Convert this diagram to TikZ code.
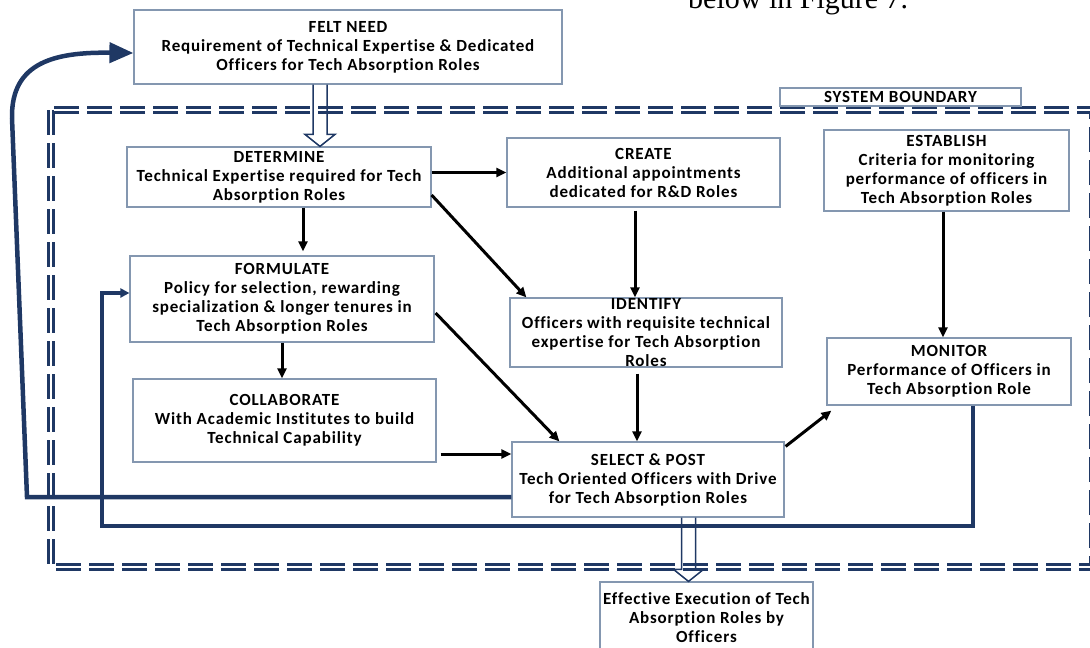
\documentclass[tikz,border=0pt]{standalone}
\usepackage{fontspec}
\setmainfont{Carlito}[Ligatures=NoCommon, LetterSpace=5]
\newfontfamily\captionserif{Liberation Serif}
\usetikzlibrary{arrows.meta,calc}
\definecolor{navy}{HTML}{1F3864}
\definecolor{boxline}{HTML}{8497B0}
\newcommand\boxfont{\fontsize{17}{19}\selectfont\bfseries}
% hollow double arrow: #1 x position, #2 from anchor, #3 to anchor
\newcommand\dblarrow[3]{%
  \draw[hollow] ([xshift=-7pt]#1 |- #2) -- ([xshift=-7pt,yshift=12pt]#1 |- #3)
    -- ([xshift=-15pt,yshift=12pt]#1 |- #3) -- (#1 |- #3)
    -- ([xshift=15pt,yshift=12pt]#1 |- #3) -- ([xshift=7pt,yshift=12pt]#1 |- #3)
    -- ([xshift=7pt]#1 |- #2);}
\tikzset{
  box/.style={draw=boxline, line width=1.2pt, fill=white, align=center, inner sep=0pt, font=\boxfont},
  flow/.style={-{Triangle[length=10pt,width=9pt]}, line width=3pt},
  feedback/.style={navy, line width=4.5pt, -{Triangle[length=24pt,width=20pt]}},
  feedbackthin/.style={navy, line width=3.2pt, -{Triangle[length=9pt,width=9pt]}},
  hollow/.style={navy, line width=1.5pt, line join=miter},
  boundary/.style={navy, line width=2.5pt, double=white, double distance=2.4pt, dash pattern=on 25pt off 8pt}
}
\begin{document}
\begin{tikzpicture}[x=1pt, y=-1pt]
\useasboundingbox (0,0) rectangle (1090,648);
\clip (0,0) rectangle (1090,648);

% text left over from the page
\node[font=\captionserif\fontsize{30}{36}\selectfont, anchor=base west, inner sep=0pt] (pagetext) at (688,8) {below in Figure 7.};

% system boundary
\draw[boundary] (51,110) rectangle (1093,567);
\node[box, minimum width=241pt, minimum height=18pt, inner ysep=-2pt] (sysb) at (900.5,97) {SYSTEM BOUNDARY};

% boxes
\node[box, minimum width=428pt, minimum height=74pt] (felt) at (348,47) {FELT NEED\\Requirement of Technical Expertise \& Dedicated\\Officers for Tech Absorption Roles};
\node[box, minimum width=304pt, minimum height=60pt, inner ysep=-2pt] (determine) at (279,177) {DETERMINE\\Technical Expertise required for Tech\\Absorption Roles};
\node[box, minimum width=273pt, minimum height=69pt] (create) at (643.5,172.5) {CREATE\\Additional appointments\\dedicated for R\&D Roles};
\node[box, minimum width=245pt, minimum height=81pt] (establish) at (946.5,170.5) {ESTABLISH\\Criteria for monitoring\\performance of officers in\\Tech Absorption Roles};
\node[box, minimum width=304pt, minimum height=86pt] (formulate) at (282,299) {FORMULATE\\Policy for selection, rewarding\\specialization \& longer tenures in\\Tech Absorption Roles};
\node[box, minimum width=272pt, minimum height=69pt, inner ysep=-4pt] (identify) at (646,332.5) {IDENTIFY\\Officers with requisite technical\\expertise for Tech Absorption\\Roles};
\node[box, minimum width=303pt, minimum height=83pt] (collaborate) at (284.5,420.5) {COLLABORATE\\With Academic Institutes to build\\Technical Capability};
\node[box, minimum width=272pt, minimum height=75pt] (select) at (648,479.5) {SELECT \& POST\\Tech Oriented Officers with Drive\\for Tech Absorption Roles};
\node[box, minimum width=244pt, minimum height=67pt] (monitor) at (949,371.5) {MONITOR\\Performance of Officers in\\Tech Absorption Role};
\node[box, minimum width=213pt, minimum height=72pt] (effective) at (706.5,618) {Effective Execution of Tech\\Absorption Roles by\\Officers};

% flow arrows
\draw[flow] (determine.east |- create.west) -- (create.west);
\draw[flow] ([xshift=24pt]determine.south) -- ([xshift=24pt,yshift=4pt]determine.south |- formulate.north);
\draw[flow] ([yshift=-18pt]determine.east) -- ([xshift=17pt]identify.north west);
\draw[flow] ([xshift=-8.5pt,yshift=-3pt]create.south) -- ([xshift=-8.5pt]create.south |- identify.north);
\draw[flow] (formulate.south) -- (formulate.south |- collaborate.north);
\draw[flow] ([xshift=1pt,yshift=-14pt]formulate.east) -- ([xshift=48pt]select.north west);
\draw[flow] ([xshift=-9pt,yshift=-6pt]identify.south) -- ([xshift=-9pt]identify.south |- select.north);
\draw[flow] ([xshift=4pt,yshift=-33.5pt]collaborate.east) -- ([yshift=-33.5pt]collaborate.east -| select.west);
\draw[flow] ([xshift=1pt,yshift=-5pt]select.north east) -- ([xshift=5pt,yshift=-5pt]monitor.south west);
\draw[flow] ([xshift=-3.5pt]establish.south) -- ([xshift=-3.5pt]establish.south |- monitor.north);

% feedback loops
\coordinate (fbA) at (27,497);
\coordinate (fbB) at (12,118);
\coordinate (fbC) at (102,526);
\draw[feedback] ([yshift=-17.5pt]select.west) -- (fbA) -- (fbB) .. controls (11,62) and (55,52) .. ([yshift=-6pt]felt.west);
\draw[feedbackthin] ([xshift=24pt]monitor.south) |- (fbC) |- ([yshift=6pt]formulate.west);

% in and out of the system
\coordinate (hxa) at (320,0);
\coordinate (hxb) at (688.5,0);
\dblarrow{hxa}{felt.south}{determine.north}
\dblarrow{hxb}{select.south}{effective.north}
\end{tikzpicture}
\end{document}
